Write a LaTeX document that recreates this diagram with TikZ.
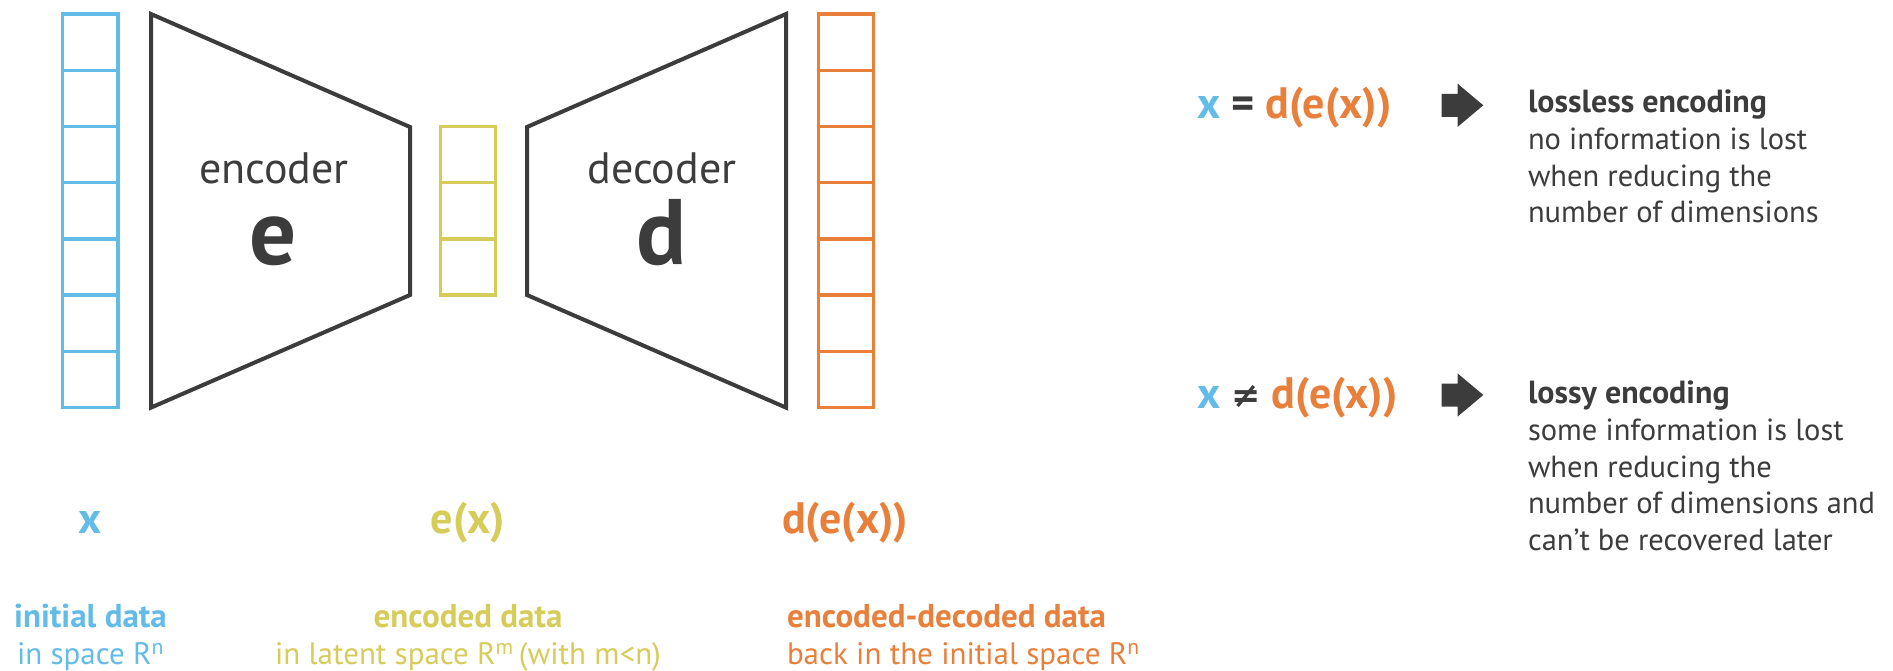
\documentclass[tikz,border=0pt]{standalone}
\usepackage{fontspec}
\setmainfont{PT Sans}
\newfontfamily\symfont{DejaVu Sans}
\definecolor{bluec}{RGB}{99,187,232}
\definecolor{yelc}{RGB}{214,204,90}
\definecolor{orac}{RGB}{232,128,60}
\definecolor{darkc}{RGB}{60,60,60}
\begin{document}
\begin{tikzpicture}[x=1pt,y=-1pt,
  cellline/.style={line width=3.4pt},
  trap/.style={draw=darkc,line width=4pt,line join=miter},
  txt/.style={inner sep=0pt,outer sep=0pt},
  midlbl/.style={txt,font=\fontsize{44}{52}\selectfont,text=darkc,anchor=base},
  biglbl/.style={txt,font=\fontsize{93}{100}\selectfont\bfseries,text=darkc,anchor=base},
  sym/.style={txt,font=\fontsize{44}{52}\selectfont\bfseries,anchor=base},
  headb/.style={txt,font=\fontsize{33}{38}\selectfont\bfseries,anchor=base},
  subl/.style={txt,font=\fontsize{31}{36}\selectfont,anchor=base},
  rhead/.style={txt,font=\fontsize{32}{36}\selectfont\bfseries,text=darkc,anchor=base west},
  rline/.style={txt,font=\fontsize{30.5}{36}\selectfont,text=darkc,anchor=base west},
  blockarrow/.style={fill=darkc}
]
\useasboundingbox (0,0) rectangle (1893,671);
\fill[white] (0,0) rectangle (1893,671);

% columns
\foreach \i in {0,...,6}{
  \draw[cellline,draw=bluec] (62.6,{14+56.23*\i}) rectangle (117.8,{14+56.23*(\i+1)});
  \draw[cellline,draw=orac] (818.7,{14+56.23*\i}) rectangle (873.3,{14+56.23*(\i+1)});
}
\foreach \i in {2,3,4}{
  \draw[cellline,draw=yelc] (440.5,{14+56.23*\i}) rectangle (495.5,{14+56.23*(\i+1)});
}

% encoder / decoder
\draw[trap] (151,14) -- (410,127) -- (410,295) -- (151,407.6) -- cycle;
\draw[trap] (527,127) -- (786,14) -- (786,407.6) -- (527,295) -- cycle;

\node[midlbl] (enc) at (274,184) {encoder};
\node[biglbl] (encE) at (273,265) {e};
\node[midlbl] (dec) at (662,184) {decoder};
\node[biglbl] (decD) at (662,265) {d};

% bottom labels
\node[sym,text=bluec] (symx) at (90.5,533) {x};
\node[sym,text=yelc] (symex) at (468,533) {e(x)};
\node[sym,text=orac] (symdex) at (845,533) {d(e(x))};

\node[headb,text=bluec] (initA) at (90.5,627) {initial data};
\node[subl,text=bluec] (initB) at (90.5,664) {in space R\textsuperscript{n}};
\node[headb,text=yelc] (encA) at (468,627) {encoded data};
\node[subl,text=yelc] (encB) at (468,664) {in latent space R\textsuperscript{m}\,(with m<n)};
\node[headb,text=orac,anchor=base west] (decA) at (787,627) {encoded-decoded data};
\node[subl,text=orac,anchor=base west] (decB) at (787,664) {back in the initial space R\textsuperscript{n}};

% right side formulas
\node[sym,anchor=base west] (f1) at (1197,119) {\textcolor{bluec}{x} \textcolor{darkc}{=} \textcolor{orac}{d(e(x))}};
\node[sym,anchor=base west] (f2) at (1197,408) {\textcolor{bluec}{x} \textcolor{darkc}{\raisebox{1pt}{\fontsize{35}{38}\symfont\bfseries ≠}} \textcolor{orac}{d(e(x))}};

% block arrows
\foreach \cy/\nm in {105.3/a1,395/a2}{
  \fill[blockarrow] (1441.7,\cy-11.5) -- (1457.7,\cy-11.5) -- (1457.7,\cy-21.5) -- (1483.3,\cy) -- (1457.7,\cy+21.5) -- (1457.7,\cy+11.5) -- (1441.7,\cy+11.5) -- cycle;
}

% right texts
\node[rhead] (l1) at (1528,113) {lossless encoding};
\node[rline] (l2) at (1528,150) {no information is lost};
\node[rline] (l3) at (1528,187) {when reducing the};
\node[rline] (l4) at (1528,223) {number of dimensions};

\node[rhead] (s1) at (1528,403) {lossy encoding};
\node[rline] (s2) at (1528,440) {some information is lost};
\node[rline] (s3) at (1528,477) {when reducing the};
\node[rline] (s4) at (1528,513) {number of dimensions and};
\node[rline] (s5) at (1528,550) {can’t be recovered later};
\end{tikzpicture}
\end{document}
